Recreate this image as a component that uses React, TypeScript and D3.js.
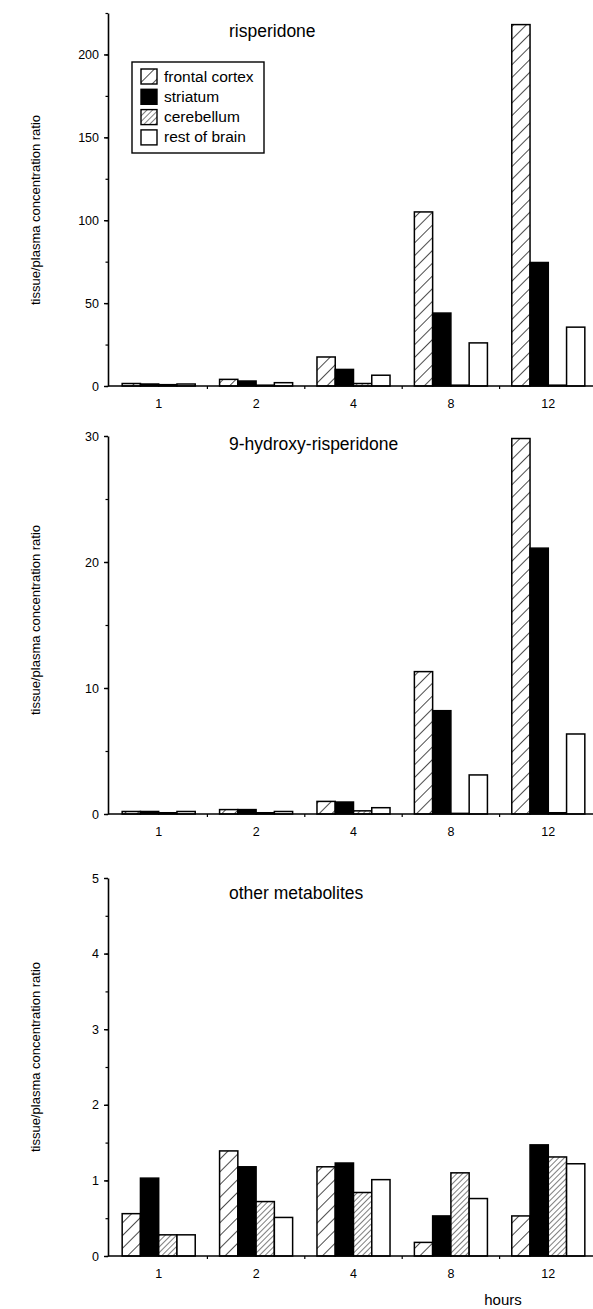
import React, { useEffect, useRef } from "react";
import * as d3 from "d3";

// sampling times (h) and tissues
const hours = ["1", "2", "4", "8", "12"];
const tissues = ["frontal cortex", "striatum", "cerebellum", "rest of brain"];

// risperidone tissue/plasma ratios
const risFrontal = [1.5, 4, 17.5, 105, 218];
const risStriatum = [1.2, 3, 10, 44, 74.5];
const risCerebellum = [0.8, 0.5, 1.5, 0.5, 0.5];
const risRest = [1.2, 2, 6.5, 26, 35.5];

// 9-hydroxy-risperidone
const hydFrontal = [0.2, 0.35, 1, 11.3, 29.8];
const hydStriatum = [0.2, 0.35, 0.95, 8.2, 21.1];
const hydCerebellum = [0.1, 0.1, 0.25, 0.05, 0.1];
const hydRest = [0.2, 0.2, 0.5, 3.1, 6.35];

// other metabolites
const othFrontal = [0.56, 1.39, 1.18, 0.18, 0.53];
const othStriatum = [1.03, 1.18, 1.23, 0.53, 1.47];
const othCerebellum = [0.28, 0.72, 0.84, 1.1, 1.31];
const othRest = [0.28, 0.51, 1.01, 0.76, 1.22];

const panels = [
  {
    title: "risperidone",
    series: [risFrontal, risStriatum, risCerebellum, risRest],
    max: 225, ticks: [0, 50, 100, 150, 200], minor: 25,
    range: [386, 13], titleY: 37, labelY: 210, legend: true,
  },
  {
    title: "9-hydroxy-risperidone",
    series: [hydFrontal, hydStriatum, hydCerebellum, hydRest],
    max: 30, ticks: [0, 10, 20, 30], minor: 5,
    range: [814, 436], titleY: 450, labelY: 620, legend: false,
  },
  {
    title: "other metabolites",
    series: [othFrontal, othStriatum, othCerebellum, othRest],
    max: 5, ticks: [0, 1, 2, 3, 4, 5], minor: 0.5,
    range: [1256, 878], titleY: 899, labelY: 1057, legend: false,
  },
];

const FONT = "'Liberation Sans', Arial, Helvetica, sans-serif";
const fills = ["url(#hatchWide)", "#000", "url(#hatchDense)", "#fff"];

const App = () => {
  const svgRef = useRef(null);

  useEffect(() => {
    const svg = d3.select(svgRef.current);
    svg.selectAll("*").remove();

    const axisX = 108;
    const rightX = 593;

    const defs = svg.append("defs");
    const hatch = (id, size, sw) => {
      const p = defs
        .append("pattern")
        .attr("id", id)
        .attr("patternUnits", "userSpaceOnUse")
        .attr("width", size)
        .attr("height", size)
        .attr("patternTransform", "rotate(45)");
      p.append("rect").attr("width", size).attr("height", size).attr("fill", "#fff");
      p.append("line")
        .attr("x1", 0).attr("y1", 0).attr("x2", 0).attr("y2", size)
        .attr("stroke", "#000").attr("stroke-width", sw);
    };
    hatch("hatchWide", 9, 1.4);
    hatch("hatchDense", 4, 1);

    const x = d3.scaleBand().domain(hours).range([110, 597]).padding(0);
    const bw = x.bandwidth();
    const x1 = d3
      .scaleBand()
      .domain(tissues)
      .range([bw * 0.125, bw * 0.875])
      .padding(0);

    panels.forEach((pn) => {
      const y = d3.scaleLinear().domain([0, pn.max]).range(pn.range);
      const g = svg.append("g");
      const y0 = y(0);

      // bars
      const rows = hours.map((h, i) => ({
        h,
        vals: tissues.map((t, k) => ({ t, k, v: pn.series[k][i] })),
      }));
      g.selectAll("g.grp")
        .data(rows)
        .enter()
        .append("g")
        .attr("transform", (d) => `translate(${x(d.h)},0)`)
        .selectAll("rect")
        .data((d) => d.vals)
        .enter()
        .append("rect")
        .attr("x", (d) => x1(d.t))
        .attr("width", x1.bandwidth())
        .attr("y", (d) => y(d.v))
        .attr("height", (d) => y0 - y(d.v))
        .attr("fill", (d) => fills[d.k])
        .attr("stroke", "#000")
        .attr("stroke-width", 1.5);

      // y axis: minor then major
      const minorVals = d3.range(0, pn.max + pn.minor / 2, pn.minor);
      g.append("g")
        .attr("transform", `translate(${axisX},0)`)
        .call(d3.axisLeft(y).tickValues(minorVals).tickSize(2.5).tickFormat(() => ""))
        .call((a) => a.select(".domain").remove())
        .selectAll("line").attr("stroke-width", 1.2);

      const ya = g.append("g")
        .attr("transform", `translate(${axisX},0)`)
        .call(
          d3.axisLeft(y)
            .tickValues(pn.ticks)
            .tickFormat(d3.format("d"))
            .tickSize(4)
            .tickSizeOuter(0)
            .tickPadding(5)
        );
      ya.select(".domain").attr("stroke-width", 1.6);
      ya.selectAll("line").attr("stroke-width", 1.4);
      ya.selectAll("text")
        .attr("font-family", FONT)
        .attr("font-size", 12.5)
        .attr("fill", "#000");

      // x axis
      g.append("line")
        .attr("x1", axisX).attr("x2", rightX)
        .attr("y1", y0).attr("y2", y0)
        .attr("stroke", "#000").attr("stroke-width", 1.6);
      g.selectAll("line.bound")
        .data(hours.slice(1))
        .enter()
        .append("line")
        .attr("x1", (d) => x(d)).attr("x2", (d) => x(d))
        .attr("y1", y0).attr("y2", y0 + 3)
        .attr("stroke", "#000").attr("stroke-width", 1.2);
      const xa = g.append("g")
        .attr("transform", `translate(0,${y0})`)
        .call(d3.axisBottom(x).tickSize(0).tickPadding(13));
      xa.select(".domain").remove();
      xa.selectAll("text")
        .attr("font-family", FONT)
        .attr("font-size", 12.5)
        .attr("fill", "#000");

      // panel title
      g.append("text")
        .attr("x", 229).attr("y", pn.titleY)
        .attr("font-family", FONT).attr("font-size", 17.5)
        .text(pn.title);

      // y title
      g.append("text")
        .attr("transform", `translate(40,${pn.labelY}) rotate(-90)`)
        .attr("text-anchor", "middle")
        .attr("font-family", FONT).attr("font-size", 13)
        .text("tissue/plasma concentration ratio");

      if (pn.legend) {
        const lg = g.append("g").attr("transform", "translate(132,62)");
        lg.append("rect")
          .attr("width", 132).attr("height", 91)
          .attr("fill", "#fff").attr("stroke", "#000").attr("stroke-width", 1.4);
        const it = lg.selectAll("g.item")
          .data(tissues)
          .enter()
          .append("g")
          .attr("transform", (d, i) => `translate(9,${7 + i * 20.3})`);
        it.append("rect")
          .attr("width", 16).attr("height", 15)
          .attr("fill", (d, i) => fills[i])
          .attr("stroke", "#000").attr("stroke-width", 1.4);
        it.append("text")
          .attr("x", 23).attr("y", 12.5)
          .attr("font-family", FONT).attr("font-size", 15.5)
          .text((d) => d);
      }
    });

    svg.append("text")
      .attr("x", 503).attr("y", 1305)
      .attr("text-anchor", "middle")
      .attr("font-family", FONT).attr("font-size", 15)
      .text("hours");
  }, []);

  return (
    <div style={{ position: "absolute", left: 0, top: 0 }}>
      <svg ref={svgRef} width="593" height="1309" style={{ display: "block", background: "#fff" }}></svg>
    </div>
  );
};

export default App;
